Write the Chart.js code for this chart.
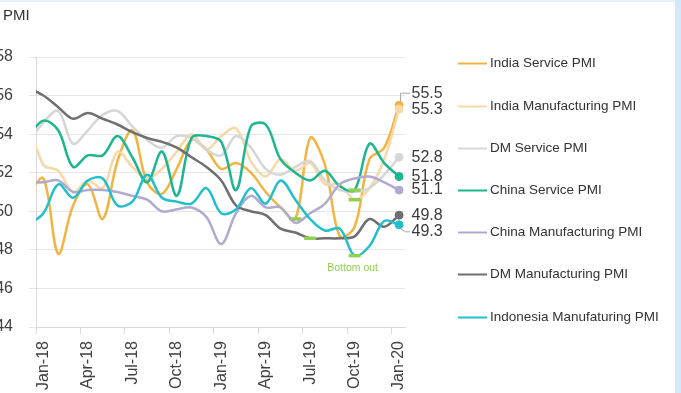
<!DOCTYPE html>
<html><head><meta charset="utf-8">
<script src="https://cdn.jsdelivr.net/npm/chart.js@4.4.1/dist/chart.umd.min.js"></script>
<style>
html,body{margin:0;padding:0;background:#fff;overflow:hidden;}
#wrap{position:relative;width:681px;height:393px;}
#topband{position:absolute;left:0;top:0;width:681px;height:2px;background:#e6f3fb;}
#rightband{position:absolute;left:675px;top:0;width:6px;height:393px;background:#d3e8f8;}
canvas{position:absolute;left:0;top:0;}
</style></head><body>
<div id="wrap"><div id="topband"></div><div id="rightband"></div><canvas id="c" width="681" height="393"></canvas></div>
<script>
// ---- data ----
const axisTitle = 'PMI';
const months = ['Dec-17','Jan-18','Feb-18','Mar-18','Apr-18','May-18','Jun-18','Jul-18','Aug-18','Sep-18','Oct-18','Nov-18','Dec-18',
                'Jan-19','Feb-19','Mar-19','Apr-19','May-19','Jun-19','Jul-19','Aug-19','Sep-19','Oct-19','Nov-19','Dec-19','Jan-20'];
const tickLabels = ['Jan-18','Apr-18','Jul-18','Oct-18','Jan-19','Apr-19','Jul-19','Oct-19','Jan-20'];
const seriesNames = ['India Service PMI','India Manufacturing PMI','DM Service PMI','China Service PMI',
                     'China Manufacturing PMI','DM Manufacturing PMI','Indonesia Manufaturing PMI'];
const indiaService = [50.9,51.7,47.8,50.3,51.4,49.6,52.6,54.2,51.5,50.9,52.2,53.7,53.2,52.2,52.5,52.0,51.0,50.2,49.6,53.8,52.4,48.7,49.2,52.7,53.3,55.5];
const indiaMfg     = [54.7,52.4,52.1,51.0,51.6,51.2,53.1,52.3,51.7,52.2,53.1,54.0,53.2,53.9,54.3,52.6,51.8,52.7,52.1,52.5,51.4,51.4,50.6,51.2,52.7,55.3];
const dmService    = [53.6,54.6,55.2,53.5,54.2,55.0,55.2,54.4,53.7,53.3,53.9,53.8,53.2,52.9,53.9,53.3,52.2,51.9,52.3,52.6,51.6,51.1,51.0,51.2,51.9,52.8];
const chinaService = [53.9,54.7,54.2,52.3,52.9,52.9,53.9,52.8,51.5,53.1,50.8,53.8,53.9,53.6,51.1,54.4,54.5,52.7,52.0,51.6,52.1,51.3,51.1,53.5,52.5,51.8];
const chinaMfg     = [51.5,51.5,51.6,51.0,51.1,51.1,51.0,50.8,50.6,50.0,50.1,50.2,49.7,48.3,49.9,50.8,50.2,50.2,49.4,49.9,50.4,51.4,51.7,51.8,51.5,51.1];
const dmMfg        = [56.4,56.0,55.4,54.8,55.1,54.8,54.5,54.1,53.8,53.6,53.3,52.8,52.3,51.6,50.3,50.0,49.8,49.1,48.9,48.6,48.6,48.6,48.7,49.6,49.2,49.8];
const indonesiaMfg = [49.3,49.9,51.4,50.7,51.6,51.7,50.3,50.5,51.9,50.7,50.5,50.4,51.2,49.9,50.1,51.2,50.4,51.6,50.6,49.6,49.0,49.1,47.7,48.2,49.5,49.3];
const bottomOut = [['India Service PMI','Jun-19'],['DM Manufacturing PMI','Jul-19'],['China Service PMI','Oct-19'],
                   ['India Manufacturing PMI','Oct-19'],['Indonesia Manufaturing PMI','Oct-19']];
const bottomOutText = 'Bottom out';
const bottomOutMonth = 'Oct-19';

// ---- styling ----
const seriesValues = [indiaService, indiaMfg, dmService, chinaService, chinaMfg, dmMfg, indonesiaMfg];
const seriesColors = ['#f2b440','#f7d8a6','#d6d6d6','#1db592','#aeaad2','#6f6f6f','#20bfcd'];
const labelNudge = [-12, 1, 0, 0, 0, 0, 7];
const FONT = '"Liberation Sans", Arial, Helvetica, sans-serif';
const GREEN = '#92d050';
Chart.defaults.font.family = FONT;

const monthX = m => months.indexOf(m) - 1;          // Jan-18 = 0
const tickValues = tickLabels.map(m => monthX(m) - 0.5); // month boundaries
const bottomSet = new Set(bottomOut.map(b => b[0] + '|' + b[1]));

const datasets = seriesNames.map((name, k) => ({
  label: name,
  data: seriesValues[k].map((v, i) => ({x: monthX(months[i]), y: v})),
  borderColor: seriesColors[k],
  backgroundColor: seriesColors[k],
  borderWidth: 2.5,
  tension: 0.35,
  order: seriesNames.length - k,
  clip: {left: 0, top: 6, right: 10, bottom: 6},
  pointStyle: ctx => bottomSet.has(name + '|' + months[ctx.dataIndex]) ? 'line' : 'circle',
  pointRadius: ctx => bottomSet.has(name + '|' + months[ctx.dataIndex]) ? 6 :
                      (ctx.dataIndex === months.length - 1 ? 4 : 0),
  pointBorderWidth: ctx => bottomSet.has(name + '|' + months[ctx.dataIndex]) ? 3.5 : 1,
  pointBorderColor: ctx => bottomSet.has(name + '|' + months[ctx.dataIndex]) ? GREEN : seriesColors[k],
  pointBackgroundColor: seriesColors[k],
  pointHoverRadius: 0
}));

const overlay = {
  id: 'overlay',
  afterDraw(chart) {
    const ctx = chart.ctx, xs = chart.scales.x, ys = chart.scales.y;
    ctx.save();
    ctx.textBaseline = 'middle';
    ctx.textAlign = 'left';
    // axis title
    ctx.font = '15px ' + FONT; ctx.fillStyle = '#333';
    ctx.fillText(axisTitle, 3, 16);
    // legend
    ctx.font = '13.5px ' + FONT;
    seriesNames.forEach((name, k) => {
      const y = Math.round(63.3 + k * 42.2) + 0.5;
      ctx.strokeStyle = seriesColors[k]; ctx.lineWidth = 2;
      ctx.beginPath(); ctx.moveTo(458, y); ctx.lineTo(487, y); ctx.stroke();
      ctx.fillStyle = '#333'; ctx.fillText(name, 490, y);
    });
    // end-value labels
    ctx.font = '16px ' + FONT;
    seriesValues.forEach((arr, k) => {
      const v = arr[arr.length - 1];
      const px = xs.getPixelForValue(monthX(months[months.length - 1]));
      const py = ys.getPixelForValue(v);
      const ly = py + labelNudge[k];
      if (Math.abs(labelNudge[k]) > 3) {
        const s = Math.sign(labelNudge[k]);
        ctx.strokeStyle = '#a6a6a6'; ctx.lineWidth = 1;
        ctx.beginPath();
        ctx.moveTo(px + 1.5, py + s * 4);
        ctx.lineTo(px + 1.5 + (s > 0 ? 5 : 0), ly);
        ctx.lineTo(px + 11, ly);
        ctx.stroke();
      }
      ctx.fillStyle = '#3a3a3a';
      ctx.fillText(v.toFixed(1), px + 12.5, ly);
    });
    // annotation
    const bx = xs.getPixelForValue(monthX(bottomOutMonth));
    const by = ys.getPixelForValue(indonesiaMfg[months.indexOf(bottomOutMonth)]) + 12.5;
    ctx.font = '10.5px ' + FONT; ctx.fillStyle = GREEN; ctx.textAlign = 'center';
    ctx.fillText(bottomOutText, bx - 2, by);
    ctx.restore();
  }
};

new Chart(document.getElementById('c'), {
  type: 'line',
  data: {datasets},
  plugins: [overlay],
  options: {
    responsive: false, animation: false, devicePixelRatio: 1,
    layout: {padding: {left: 0, right: 276, top: 57, bottom: 0}},
    plugins: {legend: {display: false}, tooltip: {enabled: false}, title: {display: false}},
    events: [],
    scales: {
      x: {
        type: 'linear', min: -0.5, max: 24.4,
        afterBuildTicks: s => { s.ticks = tickValues.map(v => ({value: v})); },
        afterFit: s => { s.height = 66; },
        grid: {display: true, drawOnChartArea: false, drawTicks: true, tickLength: 7, color: '#d9d9d9', lineWidth: 1},
        border: {display: true, color: '#d9d9d9', width: 1},
        ticks: {autoSkip: false, minRotation: 90, maxRotation: 90, padding: 7, labelOffset: 7.4,
                color: '#404040', font: {size: 16}, callback: (v, i) => tickLabels[i]}
      },
      y: {
        min: 44, max: 58,
        afterFit: s => { s.width = 36; },
        ticks: {stepSize: 2, padding: 16, color: '#404040', font: {size: 16}},
        grid: {color: '#e6e6e6', tickLength: 7, drawTicks: true, lineWidth: 1},
        border: {display: true, color: '#d9d9d9', width: 1}
      }
    }
  }
});
</script>
</body></html>
